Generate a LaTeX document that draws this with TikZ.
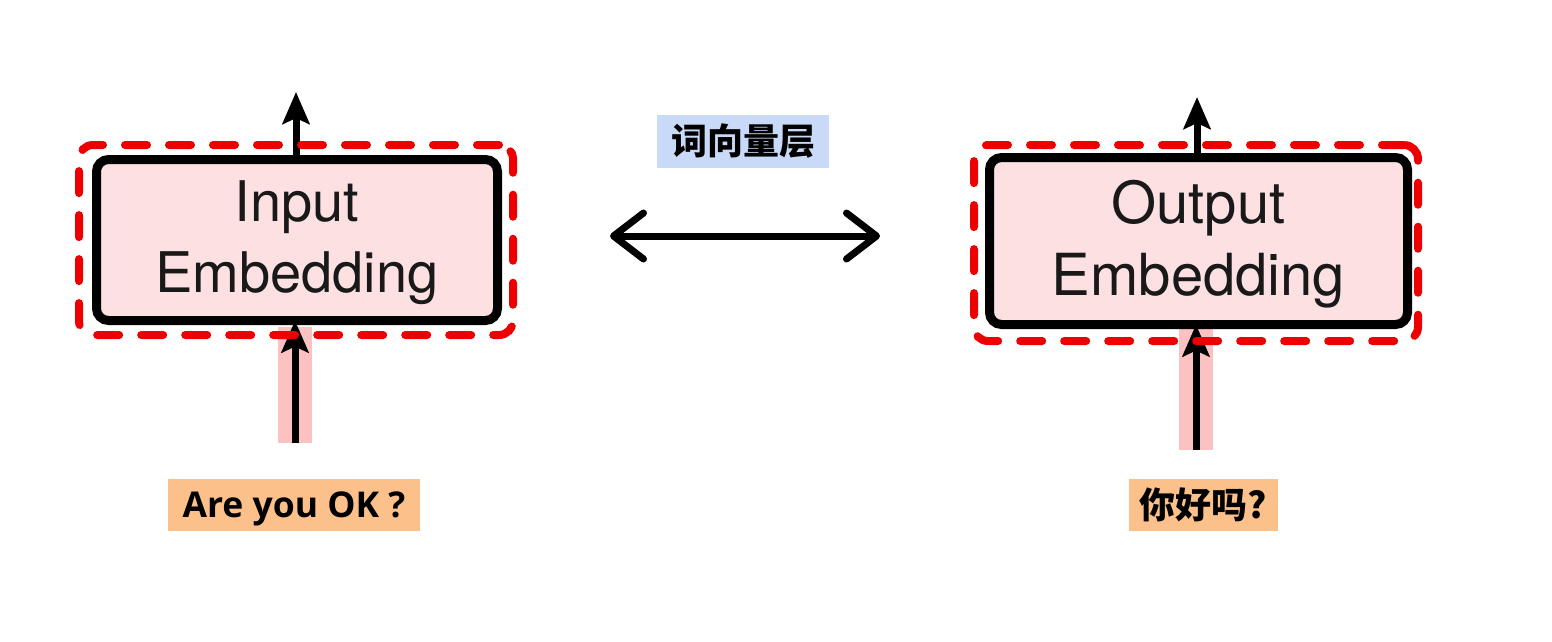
\documentclass[tikz,border=0pt]{standalone}
\usepackage{fontspec}
\setmainfont{TeX Gyre Heros}
\newfontfamily\cjk{Noto Sans CJK SC}
\newfontfamily\opensans{Open Sans}
\usetikzlibrary{arrows.meta}
\definecolor{boxpink}{HTML}{FCE0E2}
\definecolor{bandpink}{HTML}{FCC2C2}
\definecolor{dashred}{HTML}{EE0000}
\definecolor{lblue}{HTML}{C9DAF8}
\definecolor{lorange}{HTML}{FCC08A}
\tikzset{
  embbox/.style={draw=black, line width=9pt, fill=boxpink, rounded corners=12pt,
    inner sep=0pt, outer sep=0pt},
  embtext/.style={inner sep=0pt, outer sep=0pt, align=center, text=black!90},
  redframe/.style={draw=dashred, line width=8pt, rounded corners=14pt, dash pattern=on 22pt off 22pt,
    line cap=round, inner sep=0pt, outer sep=0pt},
  band/.style={fill=bandpink, draw=none, inner sep=0pt, outer sep=0pt},
  vflow/.style={line width=7pt, -{Stealth[length=32pt, width=27pt, inset=6pt]}},
  tag/.style={inner sep=0pt, outer sep=0pt, text=black},
}
\begin{document}
\begin{tikzpicture}[x=1pt, y=-1pt]
\useasboundingbox (0,0) rectangle (1552,641);
% pink bands behind input arrows
\node[band, minimum width=34pt, minimum height=116pt] (bandL) at (295,385) {};
\node[band, minimum width=34pt, minimum height=122pt] (bandR) at (1196,389) {};
% embedding boxes
\node[embbox, minimum width=401pt, minimum height=161pt] (inemb) at (297,240) {};
\node[embtext, font=\fontsize{56}{71}\selectfont] (intext) at ([yshift=-3pt]inemb.center) {Input\\Embedding};
\node[embbox, minimum width=418pt, minimum height=167pt] (outemb) at (1198.5,241) {};
\node[embtext, font=\fontsize{58}{72}\selectfont] (outtext) at ([yshift=-3pt]outemb.center) {Output\\Embedding};
% coordinates for arrow ends
\coordinate (inTop) at (296,92);
\coordinate (inBot) at (295,443);
\coordinate (outTop) at (1197,97);
\coordinate (outBot) at (1196,450);
\draw[vflow] (inemb.north -| inTop) -- (inTop);
\draw[vflow] (inBot) -- (inemb.south -| inBot);
\draw[vflow] (outemb.north -| outTop) -- (outTop);
\draw[vflow] (outBot) -- (outemb.south -| outBot);
% dashed red frames
\node[redframe, minimum width=434pt, minimum height=190pt] (inframe) at (296,240) {};
\node[redframe, minimum width=444pt, minimum height=196pt] (outframe) at (1196,243) {};
% middle label and double arrow
\node[tag, fill=lblue, minimum width=172pt, minimum height=53pt,
  font=\cjk\bfseries\fontsize{36}{40}\selectfont] (mid) at (743,141.5) {词向量层};
\coordinate (dL) at (610,236);
\coordinate (dR) at (880,236);
\draw[line width=7pt, {Straight Barb[length=30pt, width=46pt, round]}-{Straight Barb[length=30pt, width=46pt, round]}] (dL) -- (dR);
% input texts
\node[tag, fill=lorange, minimum width=252pt, minimum height=52pt] (en) at (294,505) {};
\node[tag, font=\opensans\bfseries\fontsize{35.5}{38}\selectfont] (entext) at ([yshift=-4pt]en.center) {Are you OK ?};
\node[tag, fill=lorange, minimum width=149pt, minimum height=52pt,
  font=\cjk\bfseries\fontsize{36}{40}\selectfont] (zh) at (1203.5,505) {你好吗?};
\end{tikzpicture}
\end{document}
